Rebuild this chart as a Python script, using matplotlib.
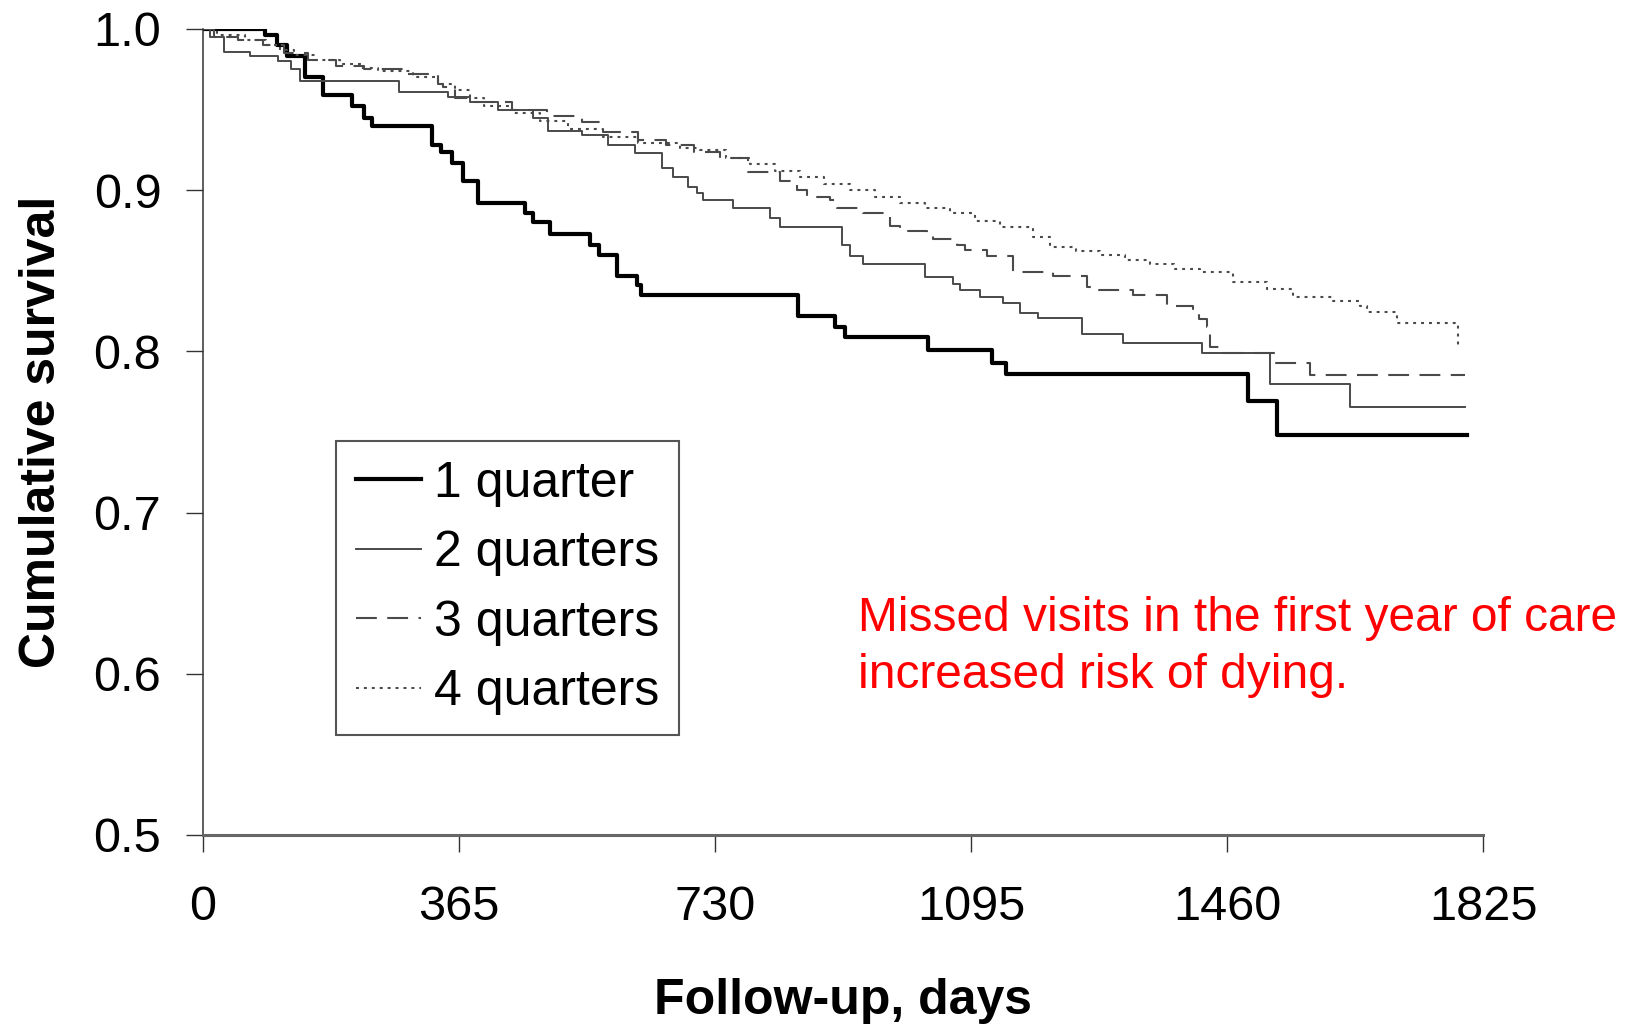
import matplotlib
matplotlib.use("Agg")
import matplotlib.pyplot as plt

plt.rcParams['font.family'] = ['Liberation Sans', 'DejaVu Sans']

# Kaplan-Meier step curves (days, cumulative survival)
q1_days = [0, 88, 105, 120, 145, 171, 212, 230, 241, 327, 340, 355, 370, 392, 459, 470, 495,
           552, 565, 590, 619, 625, 848, 901, 915, 1034, 1125, 1145, 1490, 1531, 1802]
q1_surv = [1.0, 0.996, 0.990, 0.983, 0.970, 0.959, 0.952, 0.945, 0.940, 0.928, 0.924, 0.917, 0.906,
           0.892, 0.886, 0.880, 0.873, 0.866, 0.860, 0.847, 0.841, 0.835, 0.822, 0.815, 0.809, 0.801,
           0.793, 0.786, 0.769, 0.748, 0.748]

q2_days = [0, 10, 30, 67, 107, 125, 138, 280, 350, 380, 420, 470, 492, 540, 577, 616, 654, 670, 691,
           705, 713, 756, 808, 823, 911, 922, 941, 1030, 1069, 1079, 1108, 1141, 1165, 1190, 1253,
           1312, 1424, 1521, 1635, 1800]
q2_surv = [1.0, 0.995, 0.986, 0.983, 0.980, 0.975, 0.968, 0.961, 0.958, 0.955, 0.950, 0.945, 0.937,
           0.934, 0.928, 0.923, 0.914, 0.908, 0.902, 0.898, 0.894, 0.889, 0.883, 0.877, 0.866, 0.859,
           0.854, 0.846, 0.842, 0.838, 0.834, 0.830, 0.824, 0.821, 0.811, 0.805, 0.799, 0.780, 0.7655,
           0.7655]

q3_days = [0, 15, 50, 85, 115, 150, 190, 230, 290, 335, 342, 360, 380, 440, 490, 540, 570, 620, 660,
           700, 737, 777, 823, 847, 861, 894, 904, 941, 980, 994, 1032, 1041, 1075, 1086, 1118, 1155,
           1212, 1260, 1276, 1326, 1374, 1412, 1420, 1431, 1436, 1450, 1528, 1578, 1800]
q3_surv = [1.0, 0.995, 0.993, 0.990, 0.985, 0.981, 0.977, 0.975, 0.972, 0.966, 0.964, 0.957, 0.955,
           0.950, 0.946, 0.942, 0.936, 0.931, 0.928, 0.924, 0.920, 0.911, 0.906, 0.900, 0.896, 0.894,
           0.889, 0.886, 0.878, 0.875, 0.872, 0.870, 0.866, 0.863, 0.859, 0.849, 0.847, 0.840, 0.838,
           0.835, 0.828, 0.826, 0.820, 0.815, 0.803, 0.799, 0.793, 0.7855, 0.7855]

q4_days = [0, 20, 60, 90, 110, 130, 160, 195, 225, 250, 300, 335, 360, 380, 400, 440, 480, 520, 570,
           620, 680, 709, 745, 780, 815, 851, 885, 922, 958, 994, 1030, 1065, 1100, 1136, 1183, 1208,
           1245, 1279, 1315, 1350, 1385, 1422, 1469, 1517, 1554, 1611, 1650, 1660, 1702, 1789]
q4_surv = [1.0, 0.996, 0.993, 0.990, 0.987, 0.984, 0.981, 0.978, 0.976, 0.974, 0.970, 0.966, 0.962,
           0.957, 0.952, 0.948, 0.943, 0.938, 0.933, 0.929, 0.926, 0.925, 0.920, 0.916, 0.912, 0.908,
           0.904, 0.900, 0.896, 0.892, 0.889, 0.886, 0.881, 0.877, 0.871, 0.865, 0.862, 0.860, 0.857,
           0.854, 0.851, 0.849, 0.843, 0.839, 0.834, 0.831, 0.828, 0.8245, 0.8176, 0.802]

labels = ['1 quarter', '2 quarters', '3 quarters', '4 quarters']
x_ticks = [0, 365, 730, 1095, 1460, 1825]
y_ticks = [0.5, 0.6, 0.7, 0.8, 0.9, 1.0]

fig = plt.figure(figsize=(16.35, 10.26), dpi=100)
ax = fig.add_axes([203 / 1635, 1 - 835 / 1026, 1280 / 1635, 806 / 1026])

gray = '#4a4a4a'
ax.step(q1_days, q1_surv, where='post', color='black', lw=3.0, label=labels[0])
ax.step(q2_days, q2_surv, where='post', color=gray, lw=1.4, label=labels[1])
ax.step(q3_days, q3_surv, where='post', color=gray, lw=1.5, linestyle=(0, (10, 5)), label=labels[2])
ax.step(q4_days, q4_surv, where='post', color=gray, lw=1.5, linestyle=(0, (1.4, 2.4)), label=labels[3])

ax.set_xlim(0, 1825)
ax.set_ylim(0.5, 1.0)
ax.set_xticks(x_ticks)
ax.set_yticks(y_ticks)
ax.set_yticklabels(['%.1f' % v for v in y_ticks])

for s in ['top', 'right']:
    ax.spines[s].set_visible(False)
ax.spines['left'].set_color('#333333')
ax.spines['left'].set_linewidth(1.1)
ax.spines['bottom'].set_color('#666666')
ax.spines['bottom'].set_linewidth(2.2)

ax.tick_params(axis='both', direction='out', length=12, width=1.0, color='#333333', labelsize=35)
ax.tick_params(axis='x', pad=24)
ax.tick_params(axis='y', pad=18)

ax.set_xlabel('Follow-up, days', fontsize=36, fontweight='bold')
ax.set_ylabel('Cumulative survival', fontsize=36, fontweight='bold')
ax.xaxis.set_label_coords(0.5, -0.178)
ax.yaxis.set_label_coords(-0.108, 0.5)

leg = ax.legend(loc='upper left', bbox_to_anchor=(0.104, 0.489), borderaxespad=0,
                fontsize=36, handlelength=1.3, handletextpad=0.25, borderpad=0.4,
                labelspacing=0.47, fancybox=False, framealpha=1)
leg.get_frame().set_edgecolor('#555555')
leg.get_frame().set_linewidth(1.5)

ax.text(0.5117, 0.296, 'Missed visits in the first year of care\nincreased risk of dying.',
        transform=ax.transAxes, color='red', fontsize=34.5, ha='left', va='top',
        linespacing=1.32)

fig.savefig('out.png', dpi=100)
